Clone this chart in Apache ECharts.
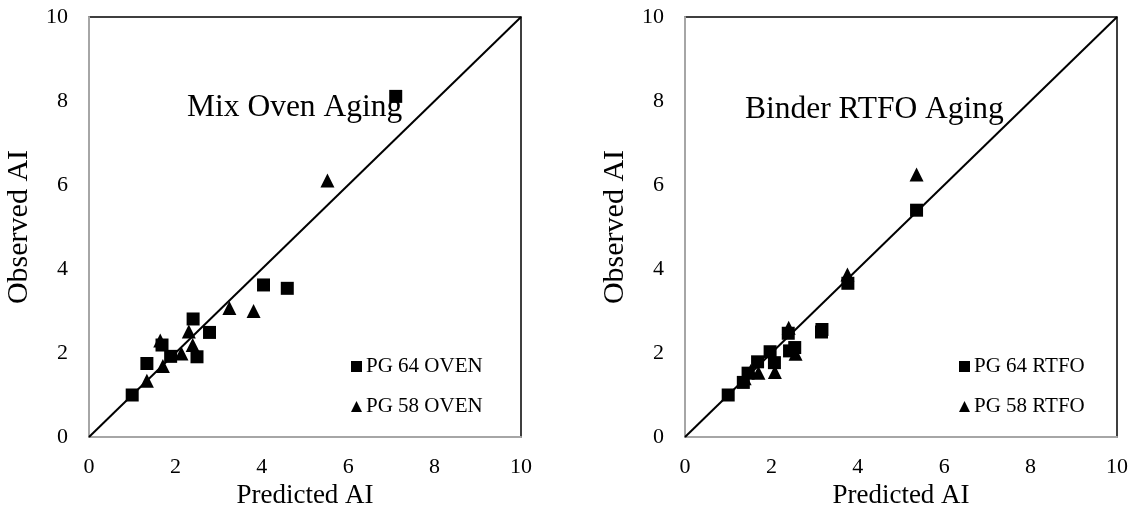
<!DOCTYPE html>
<html>
<head>
<meta charset="utf-8">
<script src="https://cdn.jsdelivr.net/npm/echarts@6/dist/echarts.min.js"></script>
<style>
html,body{margin:0;padding:0;background:#fff;}
#chart{width:1133px;height:510px;}
</style>
</head>
<body>
<div id="chart"></div>
<script>
// ---- data ----
const axisTicks = [0, 2, 4, 6, 8, 10];
const lineX = [0, 10];
const lineY = [0, 10];

const oven64X = [1.00, 1.34, 1.69, 1.89, 2.41, 2.50, 2.79, 4.04, 4.59, 7.10];
const oven64Y = [1.00, 1.75, 2.19, 1.92, 2.81, 1.91, 2.49, 3.62, 3.54, 8.11];
const oven58X = [1.34, 1.71, 1.65, 2.14, 2.31, 2.40, 3.25, 3.81, 5.52];
const oven58Y = [1.34, 1.69, 2.30, 1.99, 2.51, 2.19, 3.07, 3.00, 6.11];

const rtfo64X = [1.00, 1.35, 1.46, 1.68, 1.97, 2.07, 2.39, 2.42, 2.54, 3.16, 3.17, 3.77, 5.36];
const rtfo64Y = [1.00, 1.30, 1.52, 1.79, 2.03, 1.77, 2.47, 2.05, 2.13, 2.50, 2.56, 3.66, 5.40];
const rtfo58X = [1.38, 1.52, 1.70, 2.08, 2.40, 2.56, 3.76, 5.36];
const rtfo58Y = [1.40, 1.57, 1.53, 1.55, 2.60, 1.98, 3.87, 6.25];

const names = ['PG 64 OVEN', 'PG 58 OVEN', 'PG 64 RTFO', 'PG 58 RTFO'];
const panelTitles = ['Mix Oven Aging', 'Binder RTFO Aging'];
const xTitle = 'Predicted AI';
const yTitle = 'Observed AI';

// ---- helpers ----
const FONT = '"Liberation Serif", "Times New Roman", serif';
const zip = (xs, ys) => xs.map((x, i) => [x, ys[i]]);

function makeAxis(idx, isY) {
  return {
    type: 'value',
    gridIndex: idx,
    min: axisTicks[0],
    max: axisTicks[axisTicks.length - 1],
    interval: axisTicks[1] - axisTicks[0],
    name: isY ? yTitle : xTitle,
    nameLocation: 'middle',
    nameGap: isY ? 55 : 41,
    nameRotate: isY ? 90 : 0,
    nameTextStyle: { fontFamily: FONT, fontSize: isY ? 30 : 27, color: '#000' },
    axisLine: { show: true, onZero: false, lineStyle: { color: '#a6a6a6', width: 2 } },
    axisTick: { show: false },
    splitLine: { show: false },
    axisLabel: { fontFamily: FONT, fontSize: 22, color: '#000', margin: isY ? 21 : 19 }
  };
}

const grids = [
  { left: 89, top: 17, width: 432, height: 420, show: true, borderColor: '#000', borderWidth: 1.5, backgroundColor: 'transparent', containLabel: false, outerBoundsMode: 'none' },
  { left: 685, top: 17, width: 432, height: 420, show: true, borderColor: '#000', borderWidth: 1.5, backgroundColor: 'transparent', containLabel: false, outerBoundsMode: 'none' }
];

function scatter(name, idx, xs, ys, symbol, size, z) {
  return {
    name: name, type: 'scatter', xAxisIndex: idx, yAxisIndex: idx,
    symbol: symbol, symbolSize: size, z: z,
    itemStyle: { color: '#000', opacity: 1 },
    data: zip(xs, ys)
  };
}
function diag(idx) {
  return {
    type: 'line', xAxisIndex: idx, yAxisIndex: idx, z: 1,
    data: zip(lineX, lineY), showSymbol: false, symbol: 'none',
    lineStyle: { color: '#000', width: 2 }, silent: true
  };
}

const legendBase = {
  orient: 'vertical', itemWidth: 11, itemHeight: 11, itemGap: 19,
  textStyle: { fontFamily: FONT, fontSize: 21, color: '#000', padding: [0, 0, 0, -1] }
};

const option = {
  animation: false,
  backgroundColor: '#fff',
  grid: grids,
  xAxis: [makeAxis(0, false), makeAxis(1, false)],
  yAxis: [makeAxis(0, true), makeAxis(1, true)],
  legend: [
    Object.assign({}, legendBase, { left: 346, top: 351, data: [{ name: names[0], icon: 'rect' }, { name: names[1], icon: 'triangle' }] }),
    Object.assign({}, legendBase, { left: 954, top: 351, data: [{ name: names[2], icon: 'rect' }, { name: names[3], icon: 'triangle' }] })
  ],
  graphic: [
    { type: 'text', x: 187, y: 108, style: { text: panelTitles[0], font: '31.5px ' + FONT, fill: '#000', textAlign: 'left', textVerticalAlign: 'middle', verticalAlign: 'middle' } },
    { type: 'text', x: 745, y: 110, style: { text: panelTitles[1], font: '31.5px ' + FONT, fill: '#000', textAlign: 'left', textVerticalAlign: 'middle', verticalAlign: 'middle' } }
  ],
  series: [
    diag(0),
    scatter(names[0], 0, oven64X, oven64Y, 'rect', 13, 3),
    scatter(names[1], 0, oven58X, oven58Y, 'triangle', 14, 4),
    diag(1),
    scatter(names[3], 1, rtfo58X, rtfo58Y, 'triangle', 14, 3),
    scatter(names[2], 1, rtfo64X, rtfo64Y, 'rect', 13, 4)
  ]
};

const chart = echarts.init(document.getElementById('chart'), null, { renderer: 'canvas' });
chart.setOption(option);
</script>
</body>
</html>
